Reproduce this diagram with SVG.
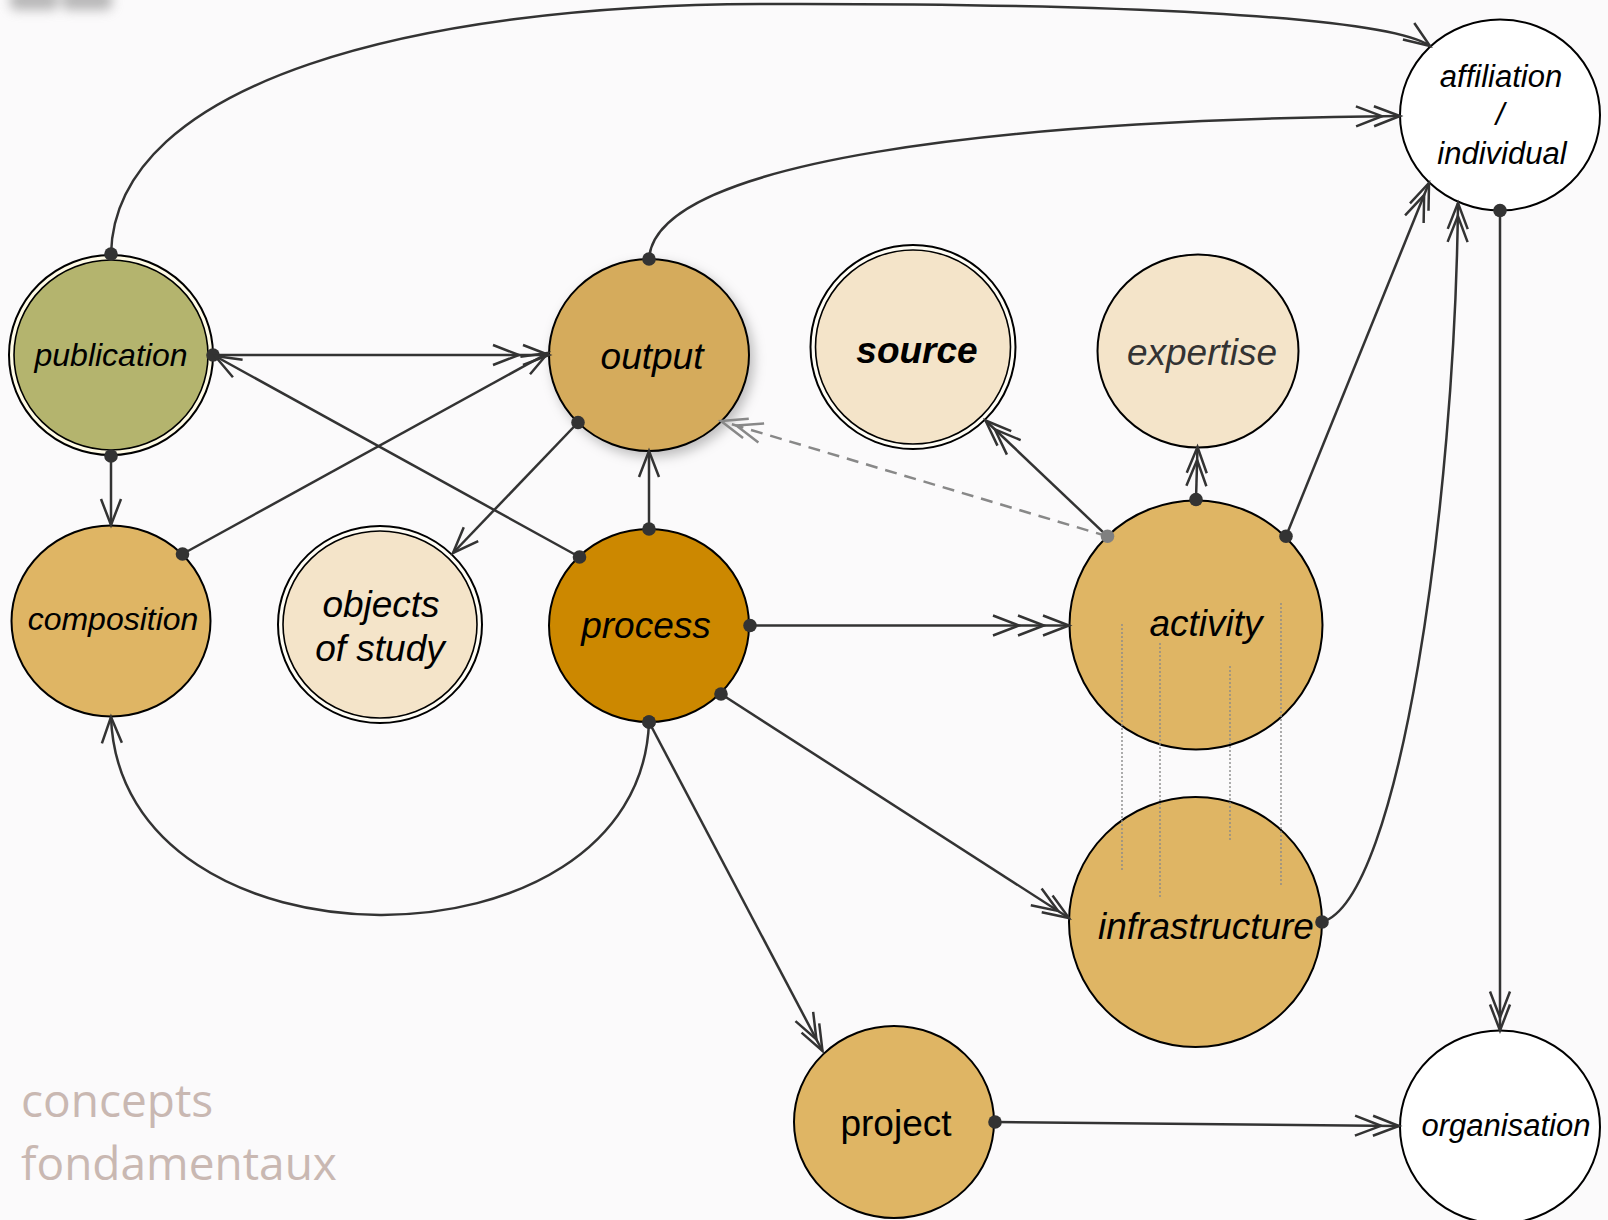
<svg xmlns="http://www.w3.org/2000/svg" width="1608" height="1220" viewBox="0 0 1608 1220">
<style>
.n{stroke:#000;stroke-width:2}
.ni{stroke:#000;stroke-width:1.6}
.t{font-family:"Liberation Sans",Arial,sans-serif;font-style:italic;fill:#000;text-anchor:middle}
.c{fill:none;stroke:#333;stroke-width:2.5}
.g{fill:none;stroke:#888;stroke-width:2.5;stroke-dasharray:12 8}
.v{fill:none;stroke:#8a8a8a;stroke-width:1.4;stroke-dasharray:2 2}
</style>
<defs>
<filter id="blur" x="-50%" y="-100%" width="200%" height="300%"><feGaussianBlur stdDeviation="6"/></filter>
<filter id="shadow" x="-20%" y="-20%" width="150%" height="150%"><feDropShadow dx="4" dy="5" stdDeviation="6" flood-color="#000" flood-opacity="0.25"/></filter>
<marker id="dot" markerUnits="userSpaceOnUse" overflow="visible" markerWidth="1" markerHeight="1"><circle r="6.8" fill="#333"/></marker>
<marker id="dotg" markerUnits="userSpaceOnUse" overflow="visible" markerWidth="1" markerHeight="1"><circle r="6.8" fill="#808080"/></marker>
<marker id="a1" markerUnits="userSpaceOnUse" orient="auto" overflow="visible" markerWidth="1" markerHeight="1"><path d="M-26,-10 L0,0 L-26,10" fill="none" stroke="#333" stroke-width="2.5"/></marker>
<marker id="a2" markerUnits="userSpaceOnUse" orient="auto" overflow="visible" markerWidth="1" markerHeight="1"><path d="M-26,-10 L0,0 L-26,10 M-39,-10 L-13,0 L-39,10" fill="none" stroke="#333" stroke-width="2.5"/></marker>
<marker id="a2w" markerUnits="userSpaceOnUse" orient="auto" overflow="visible" markerWidth="1" markerHeight="1"><path d="M-26,-10 L0,0 L-26,10 M-56,-10 L-30,0 L-56,10" fill="none" stroke="#333" stroke-width="2.5"/></marker>
<marker id="a2m" markerUnits="userSpaceOnUse" orient="auto" overflow="visible" markerWidth="1" markerHeight="1"><path d="M-26,-10 L0,0 L-26,10 M-44,-10 L-18,0 L-44,10" fill="none" stroke="#333" stroke-width="2.5"/></marker>
<marker id="a3" markerUnits="userSpaceOnUse" orient="auto" overflow="visible" markerWidth="1" markerHeight="1"><path d="M-26,-10 L0,0 L-26,10 M-51,-10 L-25,0 L-51,10 M-76,-10 L-50,0 L-76,10" fill="none" stroke="#333" stroke-width="2.5"/></marker>
<marker id="a2g" markerUnits="userSpaceOnUse" orient="auto" overflow="visible" markerWidth="1" markerHeight="1"><path d="M-26,-10 L0,0 L-26,10 M-42,-10 L-16,0 L-42,10" fill="none" stroke="#888" stroke-width="2.5"/></marker>
</defs>
<rect width="1608" height="1220" fill="#fbfafb"/>
<g filter="url(#blur)" fill="#8a8a8a" opacity="0.6">
<rect x="10" y="-10" width="48" height="20" rx="6"/>
<rect x="62" y="-10" width="50" height="20" rx="6"/>
</g>

<g id="publication">
<ellipse cx="111" cy="355" rx="102" ry="100" fill="#fffbe6" class="n"/>
<ellipse cx="111" cy="355" rx="97" ry="95" fill="#b4b46e" class="ni"/>
<text x="111" y="366" class="t" font-size="32">publication</text>
</g>
<g id="output">
<ellipse cx="649" cy="355" rx="100" ry="96" fill="#d5ab5b" class="n" filter="url(#shadow)"/>
<text x="652" y="369" class="t" font-size="37">output</text>
</g>
<g id="source">
<ellipse cx="913" cy="347" rx="102.5" ry="102" fill="#fffdf5" class="n"/>
<ellipse cx="913" cy="347" rx="97.5" ry="97" fill="#f4e4c9" class="ni"/>
<text x="917" y="363" class="t" font-size="37" font-weight="bold">source</text>
</g>
<g id="expertise">
<ellipse cx="1198" cy="351" rx="100.5" ry="96.5" fill="#f4e4c9" class="n"/>
<text x="1202" y="365" class="t" font-size="37" style="fill:#333">expertise</text>
</g>
<g id="composition">
<ellipse cx="111" cy="621" rx="99.5" ry="95.5" fill="#dfb564" class="n"/>
<text x="113" y="630" class="t" font-size="32">composition</text>
</g>
<g id="objects-of-study">
<ellipse cx="380" cy="624.5" rx="102" ry="98.5" fill="#fffdf5" class="n"/>
<ellipse cx="380" cy="624.5" rx="97" ry="93.5" fill="#f4e4c9" class="ni"/>
<text x="381" y="617" class="t" font-size="37">objects</text>
<text x="380" y="661" class="t" font-size="37">of study</text>
</g>
<g id="process">
<ellipse cx="649" cy="625.5" rx="100" ry="96.5" fill="#cc8800" class="n"/>
<text x="646" y="638" class="t" font-size="37">process</text>
</g>
<g id="activity">
<ellipse cx="1196" cy="625" rx="126.5" ry="124.5" fill="#dfb564" class="n"/>
<text x="1206" y="636" class="t" font-size="37">activity</text>
</g>
<g id="infrastructure">
<ellipse cx="1195.5" cy="922" rx="126.5" ry="125" fill="#dfb564" class="n"/>
<text x="1206" y="939" class="t" font-size="37">infrastructure</text>
</g>
<g id="project">
<ellipse cx="894" cy="1122" rx="100" ry="96" fill="#dfb564" class="n"/>
<text x="896" y="1136" font-family="Liberation Sans, Arial, sans-serif" font-size="37" text-anchor="middle" fill="#000">project</text>
</g>
<g id="affiliation-individual">
<ellipse cx="1500" cy="115" rx="100" ry="95.5" fill="#ffffff" class="n"/>
<text x="1501" y="87" class="t" font-size="31">affiliation</text>
<text x="1500" y="125" class="t" font-size="31">/</text>
<text x="1502" y="164" class="t" font-size="31">individual</text>
</g>
<g id="organisation">
<ellipse cx="1500" cy="1127" rx="100" ry="96.5" fill="#ffffff" class="n"/>
<text x="1506" y="1136" class="t" font-size="31">organisation</text>
</g>

<g id="connectors">
<path class="c" d="M111,254 C115,80 420,5 760,4 C1100,3 1385,15 1430,46" marker-start="url(#dot)" marker-end="url(#a1)"/>
<path class="c" d="M649,259 C655,160 1000,120 1400,116" marker-start="url(#dot)" marker-end="url(#a2m)"/>
<path class="c" d="M213,355 L549,355" marker-start="url(#dot)" marker-end="url(#a2w)"/>
<path class="c" d="M579.5,557 L215,356" marker-start="url(#dot)" marker-end="url(#a1)"/>
<path class="c" d="M182.5,554 L548,353" marker-start="url(#dot)" marker-end="url(#a1)"/>
<path class="c" d="M111,456 L111,525" marker-start="url(#dot)" marker-end="url(#a1)"/>
<path class="c" d="M578,422.5 L453,553" marker-start="url(#dot)" marker-end="url(#a1)"/>
<path class="c" d="M649,529 L649,451" marker-start="url(#dot)" marker-end="url(#a1)"/>
<path class="c" d="M750,625.5 L1069,625.5" marker-start="url(#dot)" marker-end="url(#a3)"/>
<path class="c" d="M721,694 L1069,918" marker-start="url(#dot)" marker-end="url(#a2)"/>
<path class="c" d="M649,722 L822.5,1051" marker-start="url(#dot)" marker-end="url(#a2)"/>
<path class="c" d="M649,722 C640,980 120,980 111,717" marker-start="url(#dot)" marker-end="url(#a1)"/>
<path class="c" d="M1196,499.5 L1197.5,447" marker-start="url(#dot)" marker-end="url(#a2)"/>
<path class="g" d="M1107.5,536.3 L721,421" marker-end="url(#a2g)"/>
<path class="c" d="M1107.5,536.3 L985.5,420.5" marker-start="url(#dotg)" marker-end="url(#a2)"/>
<path class="c" d="M1286,536.3 L1429,183" marker-start="url(#dot)" marker-end="url(#a2)"/>
<path class="c" d="M1322,922 C1400,900 1455,500 1458,203" marker-start="url(#dot)" marker-end="url(#a2)"/>
<path class="c" d="M1500,210.5 L1500,1030.5" marker-start="url(#dot)" marker-end="url(#a2)"/>
<path class="c" d="M995,1122 L1399,1126" marker-start="url(#dot)" marker-end="url(#a2m)"/>
<path class="v" d="M1122,624 L1122,872"/>
<path class="v" d="M1160,643 L1160,898"/>
<path class="v" d="M1230,666 L1230,840"/>
<path class="v" d="M1281,603 L1281,885"/>
</g>

<g id="caption" font-family="Open Sans, sans-serif" font-size="46" fill="#c9b8b2">
<text x="21" y="1117">concepts</text>
<text x="21" y="1180">fondamentaux</text>
</g>
</svg>
